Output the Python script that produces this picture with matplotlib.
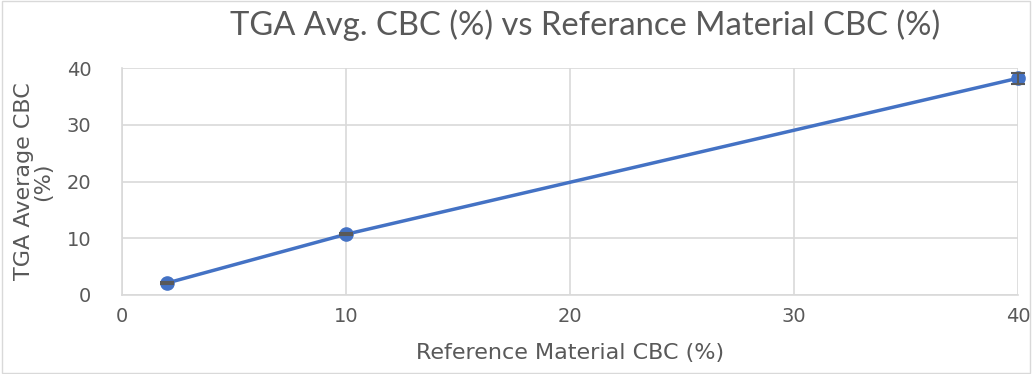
import matplotlib as mpl
mpl.use('Agg')
import matplotlib.pyplot as plt
from matplotlib.patches import Rectangle

ref_cbc = [2, 10, 40]
tga_cbc = [2.1, 10.7, 38.2]
tga_err = [0.15, 0.15, 1.0]

GRAY = '#595959'
GRID = '#d9d9d9'
LINE = '#4472c4'

fig = plt.figure(figsize=(10.32, 3.74), dpi=100)
ax = fig.add_axes([122 / 1032, 1 - 295 / 374, (1018 - 122) / 1032, (295 - 68) / 374])

ax.plot(ref_cbc, tga_cbc, color=LINE, lw=2.5, marker='o', ms=9.5, zorder=3, clip_on=False)
eb = ax.errorbar(ref_cbc, tga_cbc, yerr=tga_err, fmt='none', ecolor=GRAY, elinewidth=1.5,
                 capsize=5, capthick=1.5, zorder=4)
for art in eb.lines[1] + eb.lines[2]:
  art.set_clip_on(False)

ax.set_xlim(0, 40)
ax.set_ylim(0, 40)
ax.set_xticks([0, 10, 20, 30, 40])
ax.set_yticks([0, 10, 20, 30, 40])
ax.grid(True, color=GRID, lw=1.2)
ax.set_axisbelow(True)
for side in ['top', 'right']:
  ax.spines[side].set_visible(False)
for side in ['left', 'bottom']:
  ax.spines[side].set_color(GRID)
  ax.spines[side].set_linewidth(1.2)
ax.tick_params(length=0, labelsize=14, labelcolor=GRAY)
ax.tick_params(axis='y', pad=22)
ax.tick_params(axis='x', pad=9)

ax.set_xlabel('Reference Material CBC (%)', fontsize=16, color=GRAY, labelpad=12)
ax.set_ylabel('TGA Average CBC\n(%)', fontsize=16, color=GRAY, labelpad=10, linespacing=0.95)
ax.set_title('TGA Avg. CBC (%) vs Referance Material CBC (%)', fontsize=23.6, color=GRAY,
             family='Lato', pad=24, x=0.517)

fig.patches.append(Rectangle((0.002, 0.003), 0.996, 0.994, transform=fig.transFigure,
                             fill=False, ec=GRID, lw=1))

fig.savefig('out.png', dpi=100)
